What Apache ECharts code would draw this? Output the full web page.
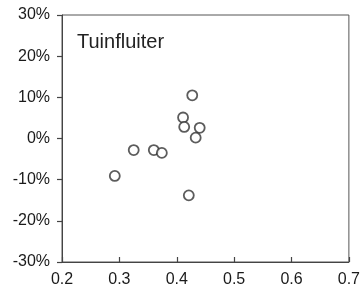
<!DOCTYPE html>
<html><head><meta charset="utf-8">
<script src="https://cdn.jsdelivr.net/npm/echarts@6/dist/echarts.min.js"></script>
<style>html,body{margin:0;padding:0;background:#fff}#c{width:363px;height:295px}</style>
</head><body><div id="c"></div>
<script>
var titleText = 'Tuinfluiter';
var xValues = [0.427, 0.411, 0.413, 0.440, 0.433, 0.325, 0.360, 0.374, 0.292, 0.421];
var yValues = [10.5, 5.1, 2.8, 2.6, 0.2, -2.8, -2.8, -3.5, -9.1, -13.8];
var xTicks = [0.2, 0.3, 0.4, 0.5, 0.6, 0.7];
var yTicks = [-30, -20, -10, 0, 10, 20, 30];

var pts = xValues.map(function(x, i){ return [x, yValues[i]]; });
var chart = echarts.init(document.getElementById('c'), null, {renderer:'canvas'});
chart.setOption({
  animation: false,
  backgroundColor: '#fff',
  title: {
    text: titleText, left: 77, top: 32, padding: 0,
    textStyle: {fontFamily: 'Liberation Sans, Arial, sans-serif', fontSize: 20, fontWeight: 'normal', color: '#222'}
  },
  grid: {left: 62, right: 14, top: 15, bottom: 33, show: true, borderColor: '#555', borderWidth: 1, backgroundColor: 'transparent'},
  xAxis: {
    type: 'value', min: xTicks[0], max: xTicks[xTicks.length-1], interval: 0.1,
    axisLine: {show: true, onZero: false, lineStyle: {color: '#444', width: 1}},
    axisTick: {show: true, inside: true, length: 5, lineStyle: {color: '#444', width: 1.2}},
    splitLine: {show: false},
    axisLabel: {margin: 10, fontFamily: 'Liberation Sans, Arial, sans-serif', fontSize: 16, color: '#1a1a1a',
      formatter: function(v){ return v.toFixed(1); }}
  },
  yAxis: {
    type: 'value', min: yTicks[0], max: yTicks[yTicks.length-1], interval: 10,
    axisLine: {show: true, onZero: false, lineStyle: {color: '#444', width: 1}},
    axisTick: {show: true, inside: false, length: 5, lineStyle: {color: '#444', width: 1.2}},
    splitLine: {show: false},
    axisLabel: {margin: 12, fontFamily: 'Liberation Sans, Arial, sans-serif', fontSize: 16, color: '#1a1a1a',
      formatter: '{value}%'}
  },
  series: [{
    type: 'scatter', data: pts, symbol: 'circle', symbolSize: 10,
    itemStyle: {color: '#fff', borderColor: '#333', borderWidth: 1.8}
  }]
});
</script></body></html>
